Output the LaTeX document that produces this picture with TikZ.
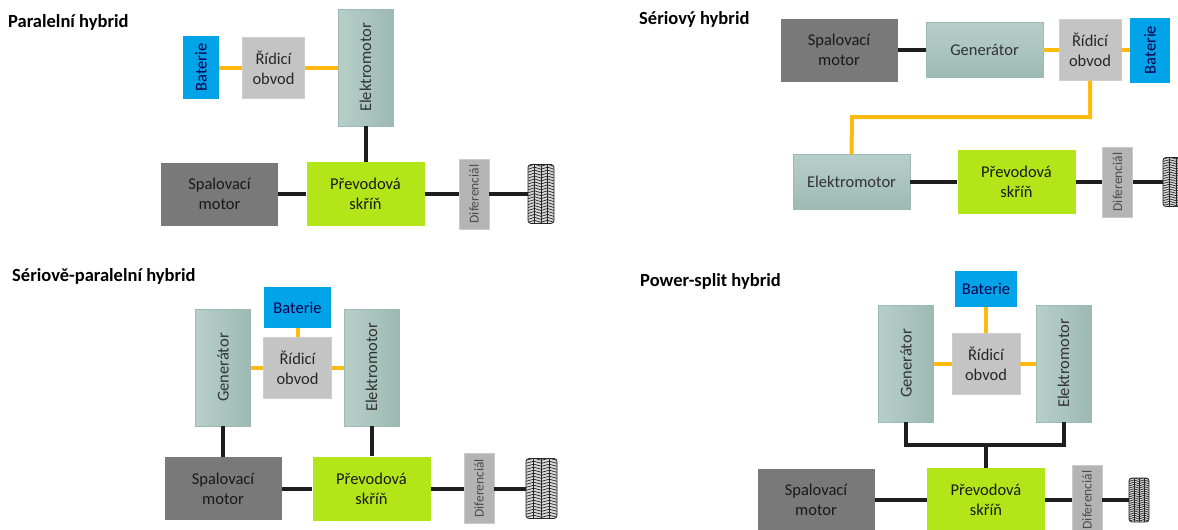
\documentclass[tikz,border=0pt]{standalone}
\usepackage{fontspec}
\setmainfont{Carlito}
\usetikzlibrary{calc}
\newcommand{\vlabel}[1]{\rotatebox{90}{#1}}
\definecolor{batblue}{HTML}{00A2E8}
\definecolor{ctrlgray}{HTML}{C4C4C4}
\definecolor{motgray}{HTML}{797979}
\definecolor{gearlime}{HTML}{B2E619}
\definecolor{difgray}{HTML}{B4B4B4}
\definecolor{tealA}{HTML}{B8CFC9}
\definecolor{tealB}{HTML}{9DB9B3}
\definecolor{wireorange}{HTML}{FFB90F}
\definecolor{wireblack}{HTML}{1E1E1E}
\begin{document}
\begin{tikzpicture}[x=1pt,y=-1pt]
\tikzstyle{box}=[inner sep=0pt, align=center, text=black!85, font=\fontsize{16.5}{20}\selectfont]
\tikzstyle{bat}=[box, fill=batblue, text=blue!30!black]
\tikzstyle{ctrl}=[box, fill=ctrlgray, draw=ctrlgray!85!white, minimum width=62pt, minimum height=61pt]
\tikzstyle{mot}=[box, fill=motgray, text=black!90, minimum width=117pt, minimum height=63pt]
\tikzstyle{gear}=[box, fill=gearlime, text=black!90, minimum width=118pt, minimum height=64pt]
\tikzstyle{dif}=[box, fill=difgray, draw=difgray!70!white, text=black!70, minimum width=30pt, minimum height=70pt, font=\fontsize{13.5}{15}\selectfont]
\tikzstyle{vmach}=[box, left color=tealA, right color=tealB, draw=tealB, text=black!80, minimum width=55pt, minimum height=117pt]
\tikzstyle{hmach}=[box, top color=tealA, bottom color=tealB, draw=tealB, text=black!80, minimum width=117pt, minimum height=55pt]
\tikzstyle{tyre}=[rounded corners=3pt, draw=black!85, fill=black!15, line width=0.8pt, path picture={
  \coordinate (sw) at (path picture bounding box.south west);
  \coordinate (se) at (path picture bounding box.south east);
  \coordinate (nw) at (path picture bounding box.north west);
  \coordinate (ne) at (path picture bounding box.north east);
  \foreach \t in {0.02,0.07,...,1}{
    \coordinate (L) at ($(sw)!\t!(nw)$);
    \coordinate (R) at ($(se)!\t!(ne)$);
    \coordinate (Lu) at ($(sw)!\t+.035!(nw)$);
    \coordinate (Ru) at ($(se)!\t+.035!(ne)$);
    \draw[black!85, line width=0.7pt, sharp corners] (L) -- ($(Lu)!.25!(Ru)$) -- ($(L)!.5!(R)$) -- ($(Lu)!.75!(Ru)$) -- (R);
  }
  \foreach \f in {.25,.5,.75}{
    \draw[black!85, line width=0.7pt] ($(sw)!\f!(se)$) -- ($(nw)!\f!(ne)$);
  }}]
\tikzstyle{title}=[inner sep=0pt, anchor=west, font=\fontsize{18.5}{22}\selectfont\bfseries]
\tikzstyle{power}=[wireorange, line width=4pt]
\tikzstyle{shaft}=[wireblack, line width=4pt]
\clip (0,0) rectangle (1178,530);
% titles
\node[title](T1) at (8,22) {Paralelní hybrid};
\node[title](T2) at (639,19) {Sériový hybrid};
\node[title](T3) at (12,276) {Sériově-paralelní hybrid};
\node[title](T4) at (640,281) {Power-split hybrid};
% paralelni
\node[bat, minimum width=36pt, minimum height=63pt](B1) at (201,67.5) {\vlabel{Baterie}};
\node[ctrl](R1) at (273.5,67.5) {Řídicí\\obvod};
\node[vmach](E1) at (365.5,67.5) {\vlabel{Elektromotor}};
\node[mot](S1) at (219.5,194) {Spalovací\\motor};
\node[gear](P1) at (365.5,194) {Převodová\\skříň};
\node[dif](D1) at (474,194) {\vlabel{Diferenciál}};
\node[tyre, minimum width=26pt, minimum height=59pt](W1) at (541,194) {};
\draw[power] (B1) -- (R1);
\draw[power] (R1) -- (E1);
\draw[shaft] (E1) -- (P1);
\draw[shaft] (S1) -- (P1);
\draw[shaft] (P1) -- (D1);
\draw[shaft] (D1) -- (W1);
% seriovy
\node[mot](S2) at (839,50) {Spalovací\\motor};
\node[hmach](G2) at (984.5,50) {Generátor};
\node[ctrl](R2) at (1090,50) {Řídicí\\obvod};
\node[bat, minimum width=40pt, minimum height=65pt](B2) at (1150,50) {\vlabel{Baterie}};
\node[hmach](E2) at (851.5,182) {Elektromotor};
\node[gear](P2) at (1016.5,182) {Převodová\\skříň};
\node[dif](D2) at (1117.5,182) {\vlabel{Diferenciál}};
\node[tyre, minimum width=26pt, minimum height=49pt](W2) at (1176,182) {};
\coordinate (J2) at (852,117);
\draw[shaft] (S2) -- (G2);
\draw[power] (G2) -- (R2);
\draw[power] (R2) -- (B2);
\draw[power] (R2.south) |- (J2) -- (E2.north);
\draw[shaft] (E2) -- (P2);
\draw[shaft] (P2) -- (D2);
\draw[shaft] (D2) -- (W2);
% seriove-paralelni
\node[bat, minimum width=67pt, minimum height=41pt](B3) at (297.5,307.5) {Baterie};
\node[ctrl, minimum width=68pt](R3) at (297.5,367.5) {Řídicí\\obvod};
\node[vmach](G3) at (223,367.5) {\vlabel{Generátor}};
\node[vmach](E3) at (371.5,367.5) {\vlabel{Elektromotor}};
\node[mot](S3) at (223,488.5) {Spalovací\\motor};
\node[gear](P3) at (371.5,488.5) {Převodová\\skříň};
\node[dif](D3) at (479,488.5) {\vlabel{Diferenciál}};
\node[tyre, minimum width=31pt, minimum height=60pt](W3) at (541.5,488.5) {};
\draw[power] (B3) -- (R3);
\draw[power] (G3) -- (R3);
\draw[power] (R3) -- (E3);
\draw[shaft] (G3) -- (S3);
\draw[shaft] (E3) -- (P3);
\draw[shaft] (S3) -- (P3);
\draw[shaft] (P3) -- (D3);
\draw[shaft] (D3) -- (W3);
% power-split
\node[bat, minimum width=62pt, minimum height=36pt](B4) at (986,289) {Baterie};
\node[ctrl, minimum width=68pt](R4) at (986,363.5) {Řídicí\\obvod};
\node[vmach](G4) at (906,363.5) {\vlabel{Generátor}};
\node[vmach](E4) at (1063.5,363.5) {\vlabel{Elektromotor}};
\node[mot](S4) at (816,500) {Spalovací\\motor};
\node[gear](P4) at (986,500) {Převodová\\skříň};
\node[dif](D4) at (1087,500) {\vlabel{Diferenciál}};
\node[tyre, minimum width=20pt, minimum height=44pt](W4) at (1139,500) {};
\coordinate (J4) at (986,445);
\draw[power] (B4) -- (R4);
\draw[power] (G4) -- (R4);
\draw[power] (R4) -- (E4);
\draw[shaft] (G4.south) |- (J4) -| (E4.south);
\draw[shaft] (J4) -- (P4);
\draw[shaft] (S4) -- (P4);
\draw[shaft] (P4) -- (D4);
\draw[shaft] (D4) -- (W4);
\end{tikzpicture}
\end{document}
